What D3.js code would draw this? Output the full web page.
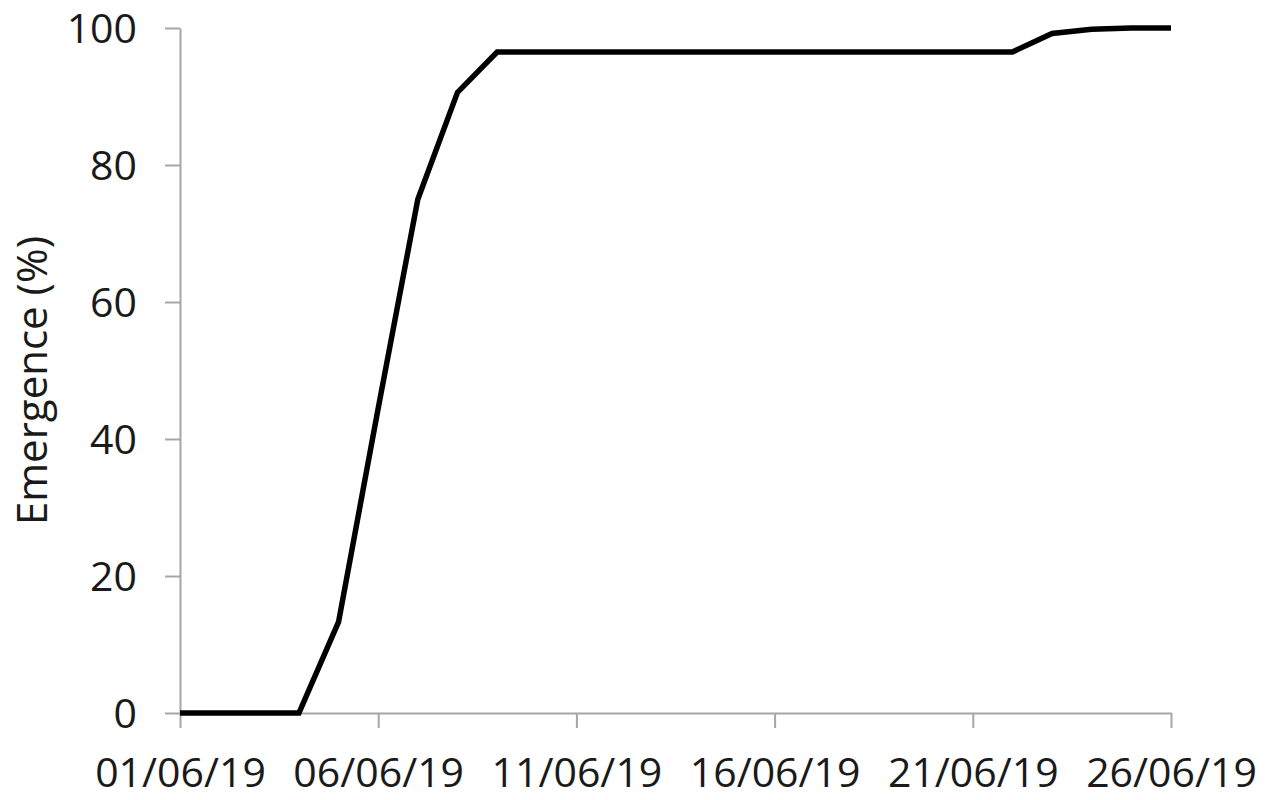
<!DOCTYPE html>
<html>
<head>
<meta charset="utf-8">
<script src="https://cdn.jsdelivr.net/npm/d3@7"></script>
<style>
html,body{margin:0;padding:0;background:#fff;}
svg text{font-family:"Open Sans","Noto Sans",sans-serif;fill:#1a1a1a;}
</style>
</head>
<body>
<svg id="chart" width="1280" height="800"></svg>
<script>
const dates = ["01/06/19","04/06/19","05/06/19","06/06/19","07/06/19","08/06/19","09/06/19","22/06/19","23/06/19","24/06/19","25/06/19","26/06/19"];
const emergence = [0,0,13.3,44.5,75,90.6,96.5,96.5,99.2,99.8,100,100];
const xTickLabels = ["01/06/19","06/06/19","11/06/19","16/06/19","21/06/19","26/06/19"];
const yTicks = [0,20,40,60,80,100];
const yTitle = "Emergence (%)";

const parse = d3.utcParse("%d/%m/%y");
const fmt = d3.utcFormat("%d/%m/%y");
const data = dates.map((d,i)=>({date:parse(d), v:emergence[i]}));

const svg = d3.select("#chart");
const margin = {left:180, right:109, top:28, bottom:87};
const W = 1280, H = 800;

const x = d3.scaleUtc()
  .domain([parse(xTickLabels[0]), parse(xTickLabels[xTickLabels.length-1])])
  .range([margin.left, W - margin.right]);
const y = d3.scaleLinear().domain([0,100]).range([H - margin.bottom, margin.top]);

const axisColor = "#a6a6a6";

const xAxis = svg.append("g")
  .attr("transform", `translate(0,${y(0)})`)
  .call(d3.axisBottom(x).tickValues(xTickLabels.map(parse)).tickFormat(fmt).tickSize(15).tickSizeOuter(0));
xAxis.select(".domain").attr("stroke", axisColor).attr("stroke-width", 2);
xAxis.selectAll(".tick line").attr("stroke", axisColor).attr("stroke-width", 2);
xAxis.selectAll(".tick text").attr("font-size", 41).attr("dy", 0).attr("y", 74)
  .attr("font-family", "'Open Sans','Noto Sans',sans-serif").attr("fill", "#1a1a1a");

const yAxis = svg.append("g")
  .attr("transform", `translate(${margin.left},0)`)
  .call(d3.axisLeft(y).tickValues(yTicks).tickSize(15).tickSizeOuter(0));
yAxis.select(".domain").attr("stroke", axisColor).attr("stroke-width", 2);
yAxis.selectAll(".tick line").attr("stroke", axisColor).attr("stroke-width", 2);
yAxis.selectAll(".tick text").attr("font-size", 41).attr("x", -43).attr("dy", "0.35em")
  .attr("font-family", "'Open Sans','Noto Sans',sans-serif").attr("fill", "#1a1a1a");

svg.append("text")
  .attr("transform", `translate(47,${(y(0)+y(100))/2 + 10}) rotate(-90)`)
  .attr("text-anchor", "middle")
  .attr("font-size", 42)
  .text(yTitle);

const line = d3.line().x(d=>x(d.date)).y(d=>y(d.v));
svg.append("path")
  .datum(data)
  .attr("d", line)
  .attr("fill", "none")
  .attr("stroke", "#000")
  .attr("stroke-width", 5.5)
  .attr("stroke-linejoin", "miter");
</script>
</body>
</html>
